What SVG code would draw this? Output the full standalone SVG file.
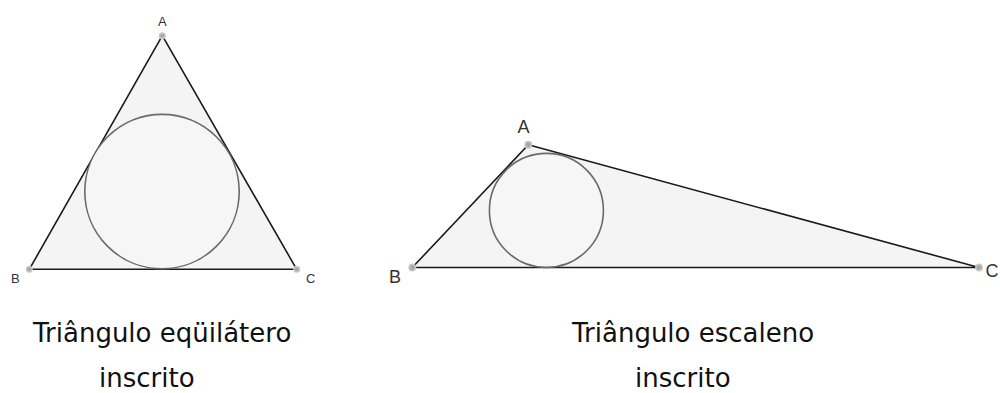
<svg xmlns="http://www.w3.org/2000/svg" width="1000" height="393" viewBox="0 0 1000 393">
<style>
.tri{fill:#f4f4f4;stroke:#1a1a1a;stroke-width:1.6;stroke-linejoin:round}
.inc{fill:#f6f6f6;stroke:#6a6a6a;stroke-width:1.6}
.pt{fill:#a8a8a8;stroke:#c8c8c8;stroke-width:1.5}
.lbl{font-family:"Liberation Sans",Arial,sans-serif;fill:#333}
.cap{font-family:"DejaVu Sans",Verdana,sans-serif;font-size:26px;fill:#111}
</style>
<rect width="1000" height="393" fill="#ffffff"/>
<g id="equilateral">
<polygon class="tri" points="162.3,35.7 29.3,269.3 296.7,269.3"/>
<circle class="inc" cx="162" cy="191.6" r="77.2"/>
<circle class="pt" cx="162.3" cy="35.7" r="2.8"/>
<circle class="pt" cx="29.3" cy="269.3" r="2.8"/>
<circle class="pt" cx="296.7" cy="269.3" r="2.8"/>
<text class="lbl" x="162.3" y="26" font-size="13" text-anchor="middle">A</text>
<text class="lbl" x="11" y="283" font-size="13">B</text>
<text class="lbl" x="306" y="283" font-size="13">C</text>
</g>
<g id="scalene">
<polygon class="tri" points="528.3,144.8 412.3,267.5 979,267.5"/>
<circle class="inc" cx="546.4" cy="210.4" r="57"/>
<circle class="pt" cx="528.3" cy="144.8" r="3.2"/>
<circle class="pt" cx="412.3" cy="267.5" r="3.2"/>
<circle class="pt" cx="979" cy="267.5" r="3.2"/>
<text class="lbl" x="523.4" y="133.3" font-size="18" text-anchor="middle">A</text>
<text class="lbl" x="389" y="282.7" font-size="18">B</text>
<text class="lbl" x="985.5" y="276.5" font-size="18">C</text>
</g>
<g id="captions">
<text class="cap" x="33" y="341.5">Triângulo eqüilátero</text>
<text class="cap" x="99" y="387">inscrito</text>
<text class="cap" x="572" y="341.5">Triângulo escaleno</text>
<text class="cap" x="635" y="387">inscrito</text>
</g>
</svg>
